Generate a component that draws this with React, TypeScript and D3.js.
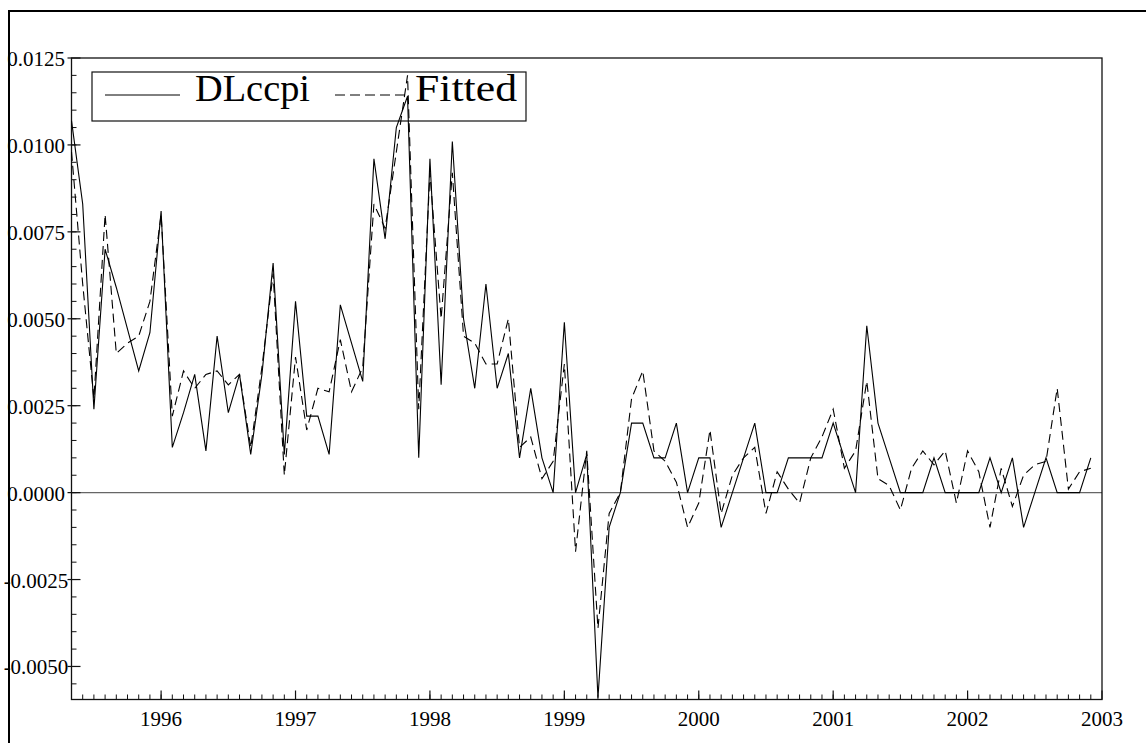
import React from "react";
import * as d3 from "d3";

const START_YEAR = 1995 + 4 / 12; // May 1995, monthly

const dlccpi: number[] = [
  0.0107, 0.0083, 0.0024, 0.0070, 0.0059, 0.0047, 0.0035, 0.0046,
  0.0081, 0.0013, 0.0023, 0.0034, 0.0012, 0.0045, 0.0023, 0.0034, 0.0011, 0.0034, 0.0066, 0.0011,
  0.0055, 0.0022, 0.0022, 0.0011, 0.0054, 0.0043, 0.0032, 0.0096, 0.0073, 0.0105, 0.0114, 0.0010,
  0.0096, 0.0031, 0.0101, 0.0050, 0.0030, 0.0060, 0.0030, 0.0040, 0.0010, 0.0030, 0.0010, 0.0000,
  0.0049, 0.0000, 0.0011, -0.0059, -0.0010, 0.0000, 0.0020, 0.0020, 0.0010, 0.0010, 0.0020, 0.0000,
  0.0010, 0.0010, -0.0010, 0.0000, 0.0010, 0.0020, 0.0000, 0.0000, 0.0010, 0.0010, 0.0010, 0.0010,
  0.0020, 0.0010, 0.0000, 0.0048, 0.0020, 0.0010, 0.0000, 0.0000, 0.0000, 0.0010, 0.0000, 0.0000,
  0.0000, 0.0000, 0.0010, 0.0000, 0.0010, -0.0010, 0.0000, 0.0010, 0.0000, 0.0000, 0.0000, 0.0010,
];

const fitted: number[] = [
  0.0098, 0.0060, 0.0027, 0.0080, 0.0040, 0.0043, 0.0045, 0.0055,
  0.0080, 0.0022, 0.0035, 0.0030, 0.0034, 0.0035, 0.0031, 0.0034, 0.0013, 0.0036, 0.0063, 0.0005,
  0.0039, 0.0018, 0.0030, 0.0029, 0.0044, 0.0029, 0.0036, 0.0083, 0.0076, 0.0098, 0.0120, 0.0024,
  0.0092, 0.0050, 0.0092, 0.0045, 0.0043, 0.0037, 0.0037, 0.0050, 0.0013, 0.0016, 0.0004, 0.0009,
  0.0037, -0.0017, 0.0012, -0.0039, -0.0006, 0.0000, 0.0027, 0.0035, 0.0012, 0.0009, 0.0003, -0.0010,
  -0.0003, 0.0018, -0.0006, 0.0005, 0.0010, 0.0013, -0.0006, 0.0006, 0.0001, -0.0003, 0.0010, 0.0016,
  0.0024, 0.0007, 0.0012, 0.0032, 0.0004, 0.0002, -0.0005, 0.0007, 0.0012, 0.0008, 0.0012, -0.0003,
  0.0012, 0.0006, -0.0010, 0.0007, -0.0004, 0.0005, 0.0008, 0.0009, 0.0030, 0.0001, 0.0006, 0.0007,
];

const yearTicks: number[] = [1996, 1997, 1998, 1999, 2000, 2001, 2002, 2003];
const yMajorTicks: number[] = [-0.005, -0.0025, 0, 0.0025, 0.005, 0.0075, 0.01, 0.0125];
const seriesNames: string[] = ["DLccpi", "Fitted"];

const W = 1146;
const H = 743;
const FONT = "'Liberation Serif', 'DejaVu Serif', serif";

export default function App() {
  const left = 71.5;
  const right = 1102;
  const top = 58;
  const bottom = 699.5;

  const x = d3.scaleLinear().domain([START_YEAR, 2003]).range([left, right]);
  const y = d3.scaleLinear().domain([-0.00595, 0.0125]).range([bottom, top]);

  const line = d3
    .line<number>()
    .x((_, i) => x(START_YEAR + i / 12))
    .y((d) => y(d));

  const monthTicks: number[] = d3.range(1, 92).map((i) => START_YEAR + i / 12);
  const yMinorTicks: number[] = d3.range(-11, 25).map((k) => k * 0.0005);

  const fmt = (v: number) => (Math.abs(v) < 1e-12 ? "0.0000" : v.toFixed(4));

  return (
    <svg
      width={W}
      height={H}
      style={{ position: "absolute", left: 0, top: 0, background: "#fff" }}
      fontFamily={FONT}
    >
      <rect x={0} y={0} width={W} height={H} fill="#fff" />
      {/* outer frame */}
      <line x1={9} y1={11} x2={W} y2={11} stroke="#000" strokeWidth={2} />
      <line x1={9} y1={10} x2={9} y2={H} stroke="#000" strokeWidth={2} />

      {/* zero line */}
      <line x1={left} x2={right} y1={y(0)} y2={y(0)} stroke="#666" strokeWidth={1.3} />

      {/* plot frame */}
      <rect x={left} y={top} width={right - left} height={bottom - top} fill="none" stroke="#111" strokeWidth={1.3} />

      {/* y minor ticks */}
      {yMinorTicks.map((v) => (
        <line key={"ym" + v} x1={left} x2={left + 5} y1={y(v)} y2={y(v)} stroke="#111" strokeWidth={1} />
      ))}
      {/* y major ticks + labels */}
      {yMajorTicks.map((v) => (
        <g key={"yM" + v}>
          <line x1={left - 4} x2={left + 9} y1={y(v)} y2={y(v)} stroke="#111" strokeWidth={1.2} />
          <text x={36} y={y(v) + 8} textAnchor="middle" fontSize={21} fill="#000">
            {fmt(v)}
          </text>
        </g>
      ))}

      {/* x minor ticks */}
      {monthTicks.map((t) => (
        <line key={"xm" + t} x1={x(t)} x2={x(t)} y1={bottom} y2={bottom - 5} stroke="#111" strokeWidth={1} />
      ))}
      {/* x major ticks + labels */}
      {yearTicks.map((t) => (
        <g key={"xM" + t}>
          <line x1={x(t)} x2={x(t)} y1={bottom} y2={bottom - 9} stroke="#111" strokeWidth={1.2} />
          <text x={x(t)} y={726} textAnchor="middle" fontSize={21} fill="#000">
            {t}
          </text>
        </g>
      ))}

      {/* legend */}
      <rect x={92} y={72} width={434} height={49} fill="#fff" stroke="#111" strokeWidth={1.2} />
      <line x1={105} x2={180} y1={95} y2={95} stroke="#000" strokeWidth={1} />
      <text x={195} y={101} fontSize={38} fill="#000" textLength={115} lengthAdjust="spacingAndGlyphs">{seriesNames[0]}</text>
      <line x1={335} x2={408} y1={95} y2={95} stroke="#000" strokeWidth={1} strokeDasharray="10,5" />
      <text x={415} y={101} fontSize={38} fill="#000" textLength={102} lengthAdjust="spacingAndGlyphs">{seriesNames[1]}</text>

      {/* series */}
      <path d={line(dlccpi) ?? ""} fill="none" stroke="#000" strokeWidth={1.1} />
      <path d={line(fitted) ?? ""} fill="none" stroke="#000" strokeWidth={1.1} strokeDasharray="9,5" />
    </svg>
  );
}
